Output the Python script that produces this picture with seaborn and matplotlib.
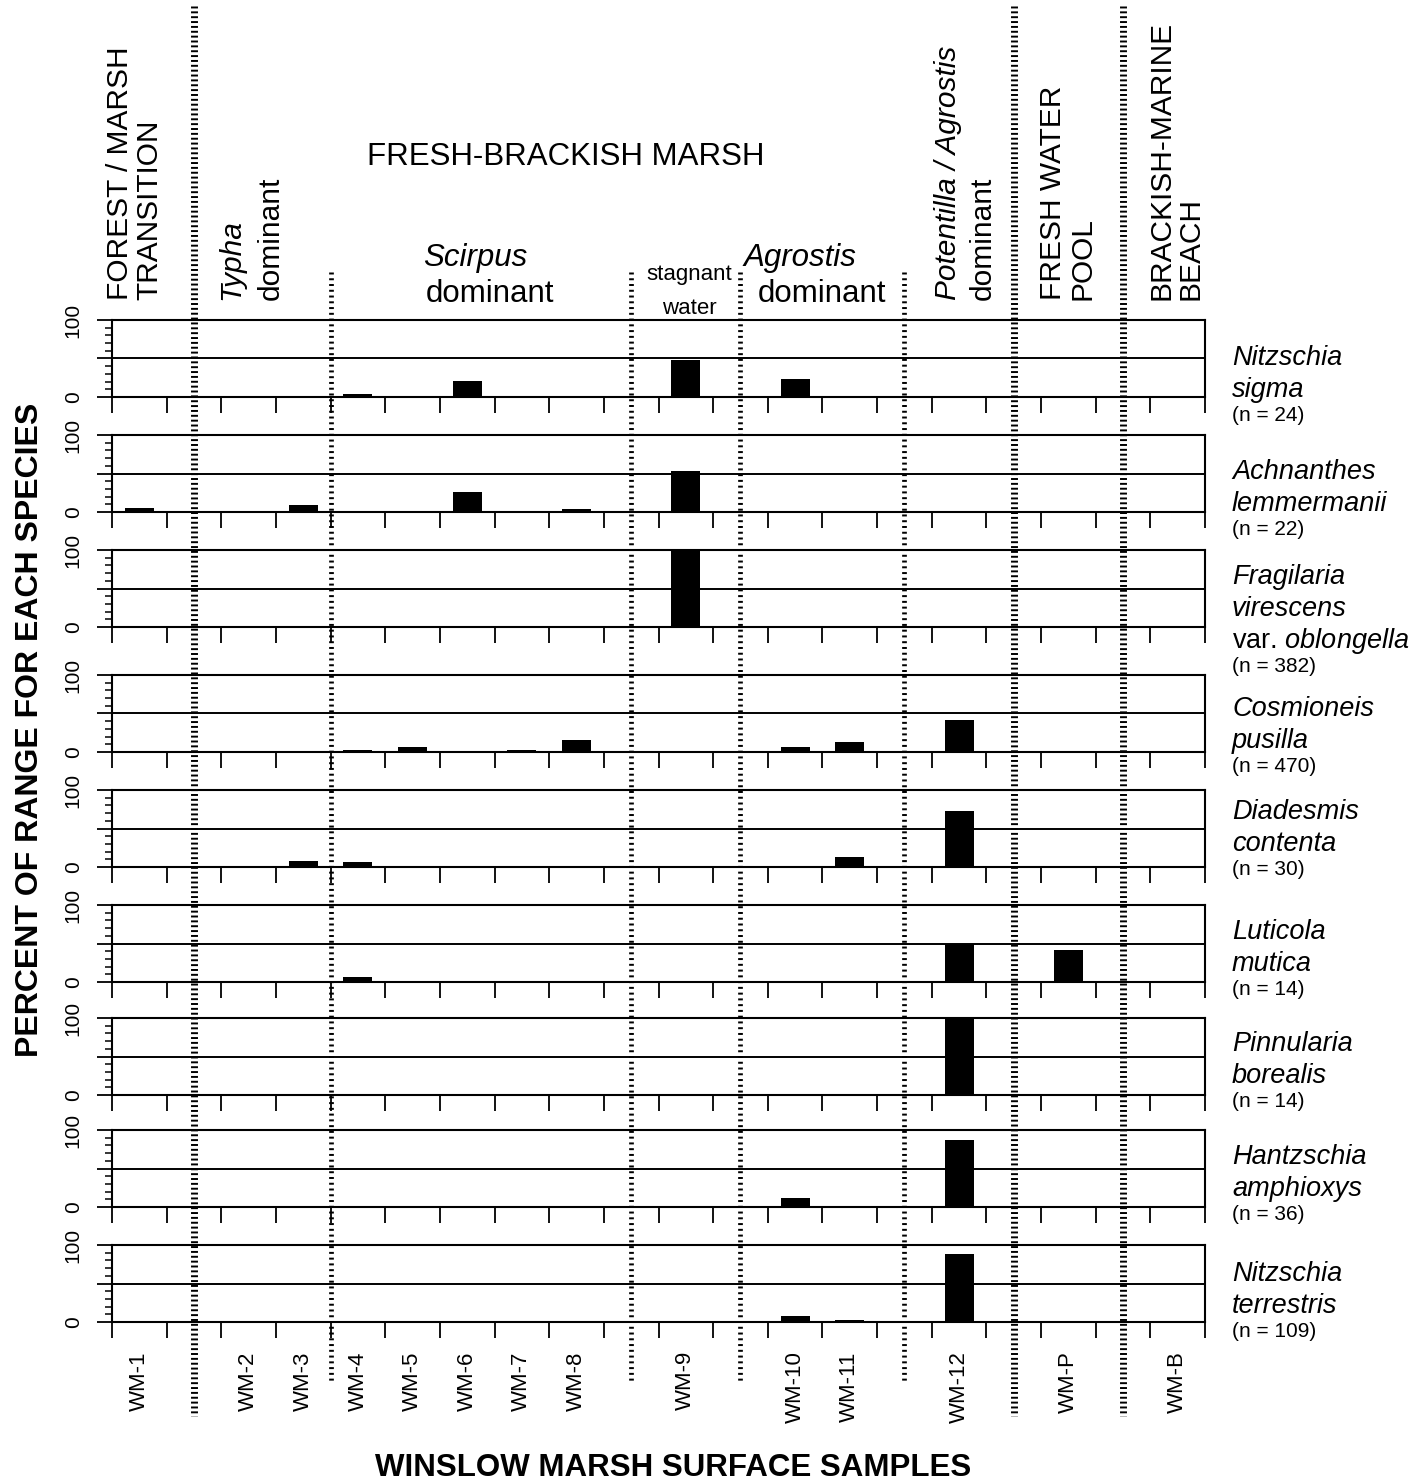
import numpy as np
import pandas as pd
import matplotlib
matplotlib.use("Agg")
import matplotlib.pyplot as plt
import matplotlib.transforms as mtransforms
from matplotlib.lines import Line2D
import seaborn as sns

# ---------------------------------------------------------------- data
samples = ["WM-1", "WM-2", "WM-3", "WM-4", "WM-5", "WM-6", "WM-7",
           "WM-8", "WM-9", "WM-10", "WM-11", "WM-12", "WM-P", "WM-B"]

# order of columns along the transect; "||" = major zone divider,
# "|" = divider between vegetation sub-zones
transect = ["WM-1", "||", "WM-2", "WM-3", "WM-4", "WM-5", "WM-6", "WM-7",
            "WM-8", "|", "WM-9", "|", "WM-10", "WM-11", "|", "WM-12", "||",
            "WM-P", "||", "WM-B"]
# sub-zone divider drawn on the edge between two neighbouring samples
edge_dividers = [("WM-3", "WM-4")]

species = ["Nitzschia\nsigma",
           "Achnanthes\nlemmermanii",
           "Fragilaria\nvirescens\nvar. $\\mathit{oblongella}$",
           "Cosmioneis\npusilla",
           "Diadesmis\ncontenta",
           "Luticola\nmutica",
           "Pinnularia\nborealis",
           "Hantzschia\namphioxys",
           "Nitzschia\nterrestris"]
counts = [24, 22, 382, 470, 30, 14, 14, 36, 109]

#                      WM-1 -2  -3  -4  -5  -6  -7  -8  -9  -10 -11 -12  P   B
nitzschia_sigma     = [0,   0,  0,  4,  0,  21, 0,  0,  48, 23, 0,  0,   0,  0]
achnanthes_lemm     = [5,   0,  9,  0,  0,  26, 0,  4,  53, 0,  0,  0,   0,  0]
fragilaria_vir      = [0,   0,  0,  0,  0,  0,  0,  0,  100, 0, 0,  0,   0,  0]
cosmioneis_pusilla  = [0,   0,  0,  2,  7,  1,  3,  16, 0,  7,  13, 42,  0,  0]
diadesmis_contenta  = [0,   0,  8,  7,  0,  0,  0,  0,  0,  0,  13, 73,  0,  0]
luticola_mutica     = [0,   0,  0,  7,  0,  0,  0,  0,  0,  0,  0,  49,  41, 0]
pinnularia_borealis = [0,   0,  0,  0,  0,  0,  0,  0,  0,  0,  0,  100, 0,  0]
hantzschia_amph     = [0,   0,  0,  0,  0,  0,  0,  0,  0,  12, 0,  87,  0,  0]
nitzschia_terr      = [0,   0,  0,  0,  0,  0,  0,  0,  0,  8,  2,  88,  0,  0]

series = [nitzschia_sigma, achnanthes_lemm, fragilaria_vir, cosmioneis_pusilla,
          diadesmis_contenta, luticola_mutica, pinnularia_borealis,
          hantzschia_amph, nitzschia_terr]

pos = {s: transect.index(s) + 0.5 for s in samples}
records = []
for sp, vals in zip(species, series):
    for s, v in zip(samples, vals):
        records.append({"species": sp, "sample": s, "pos": pos[s], "value": v})
df = pd.DataFrame(records)

# ---------------------------------------------------------------- style
sns.set_theme(style="ticks")
plt.rcParams["font.family"] = ["Liberation Sans", "DejaVu Sans"]
plt.rcParams["mathtext.fontset"] = "custom"
plt.rcParams["mathtext.rm"] = "Liberation Sans"
plt.rcParams["mathtext.it"] = "Liberation Sans:italic"
for key in ["text.color", "axes.labelcolor", "xtick.color", "ytick.color",
            "xtick.labelcolor", "ytick.labelcolor"]:
    plt.rcParams[key] = "black"

W, H = 1411, 1484
fig = plt.figure(figsize=(W / 100, H / 100), dpi=100)


def fx(px):
    return px / W


def fy(py):
    return 1 - py / H


x_left, x_right = 112, 1205
panel_tops = [320, 435, 550, 675, 790, 905, 1018, 1130, 1245]
panel_h = 77
label_first = [36, 35, 25, 32, 20, 25, 24, 25, 27]

axes = []
for i, (sp, n) in enumerate(zip(species, counts)):
    top = panel_tops[i]
    ax = fig.add_axes([fx(x_left), fy(top + panel_h),
                       fx(x_right) - fx(x_left), panel_h / H])
    sub = df[df["species"] == sp]
    sns.barplot(data=sub, x="pos", y="value", native_scale=True,
                color="black", width=0.53, linewidth=0, errorbar=None,
                saturation=1, ax=ax)
    ax.set_xlim(0, len(transect))
    ax.set_ylim(0, 100)
    ax.set_xlabel("")
    ax.set_ylabel("")
    ax.axhline(50, color="black", lw=1.4, zorder=1)
    for side in ["left", "right", "top", "bottom"]:
        ax.spines[side].set_visible(True)
        ax.spines[side].set_linewidth(1.5)
        ax.spines[side].set_color("black")

    ax.set_xticks(np.arange(0, len(transect) + 1))
    ax.set_xticklabels([])
    ax.tick_params(axis="x", which="major", direction="out", length=11.5,
                   width=1.3, color="black")
    ax.set_yticks([0, 50, 100])
    ax.set_yticklabels(["0", "", "100"])
    ax.set_yticks(np.arange(10, 100, 10), minor=True)
    ax.tick_params(axis="y", which="major", direction="out", length=11,
                   width=1.3, color="black", pad=10, labelsize=15,
                   labelcolor="black")
    ax.tick_params(axis="y", which="minor", direction="out", length=5,
                   width=1.1, color="black")
    for lab in ax.get_yticklabels():
        lab.set_rotation(90)
        lab.set_va("center")
    ax.patch.set_alpha(0)

    # species name and number of observations
    lines = sp.split("\n")
    y0 = top + label_first[i]
    for k, ln in enumerate(lines):
        style = "normal" if ln.startswith("var.") else "italic"
        fig.text(fx(1232), fy(y0 + 32 * k + 9), ln, fontsize=19.5,
                 style=style, ha="left", va="baseline")
    fig.text(fx(1232), fy(y0 + 32 * (len(lines) - 1) + 27 + 6),
             f"(n = {n})", fontsize=15, ha="left", va="baseline")
    axes.append(ax)

# sample names under the lowest panel
bottom_ax = axes[-1]
bottom_ax.set_xticks([pos[s] for s in samples], minor=True)
bottom_ax.set_xticklabels(samples, minor=True, rotation=90, fontsize=16)
bottom_ax.tick_params(axis="x", which="minor", length=0, pad=21,
                      labelcolor="black")

# ---------------------------------------------------------------- zone dividers
blend = mtransforms.blended_transform_factory(axes[0].transData, fig.transFigure)


def divider(x, heavy):
    if heavy:
        y0, y1, lw, dash = 6, 1416, 5.0, (0.28, 0.42)
    else:
        y0, y1, lw, dash = 272, 1382, 3.4, (0.42, 0.8)
    ln = Line2D([x, x], [fy(y0), fy(y1)], transform=blend, color="black",
                lw=lw, dashes=dash, solid_capstyle="butt",
                dash_capstyle="butt", zorder=5, clip_on=False)
    fig.add_artist(ln)


for j, slot in enumerate(transect):
    if slot == "||":
        divider(j + 0.5, True)
    elif slot == "|":
        divider(j + 0.5, False)
for a, b in edge_dividers:
    divider((pos[a] + pos[b]) / 2, False)

# ---------------------------------------------------------------- zone labels
ZF = 21.5
HF = 22.5
fig.text(fx(135), fy(300), "FOREST / MARSH\nTRANSITION", rotation=90,
         ha="center", va="bottom", fontsize=ZF, linespacing=1.05,
         multialignment="left")
fig.text(fx(231), fy(300), "Typha", rotation=90, ha="center", va="bottom",
         fontsize=ZF, style="italic")
fig.text(fx(271), fy(300), "dominant", rotation=90, ha="center", va="bottom",
         fontsize=ZF)
fig.text(fx(566), fy(165), "FRESH-BRACKISH MARSH", ha="center",
         va="baseline", fontsize=HF)
fig.text(fx(475), fy(266), "Scirpus", ha="center", va="baseline",
         fontsize=HF, style="italic")
fig.text(fx(490), fy(302), "dominant", ha="center", va="baseline",
         fontsize=HF)
fig.text(fx(689), fy(280), "stagnant", ha="center", va="baseline",
         fontsize=16)
fig.text(fx(689), fy(314), "water", ha="center", va="baseline",
         fontsize=16)
fig.text(fx(800), fy(266), "Agrostis", ha="center", va="baseline",
         fontsize=HF, style="italic")
fig.text(fx(822), fy(302), "dominant", ha="center", va="baseline",
         fontsize=HF)
fig.text(fx(948), fy(300), "Potentilla / Agrostis", rotation=90,
         ha="center", va="bottom", fontsize=ZF, style="italic")
fig.text(fx(983), fy(300), "dominant", rotation=90, ha="center",
         va="bottom", fontsize=ZF)
fig.text(fx(1068), fy(300), "FRESH WATER\nPOOL", rotation=90, ha="center",
         va="bottom", fontsize=ZF, linespacing=1.05, multialignment="left")
fig.text(fx(1176), fy(300), "BRACKISH-MARINE\nBEACH", rotation=90,
         ha="center", va="bottom", fontsize=ZF, linespacing=1.05,
         multialignment="left")

# ---------------------------------------------------------------- axis titles
fig.text(fx(30), fy(730), "PERCENT OF RANGE FOR EACH SPECIES", rotation=90,
         ha="center", va="center", fontsize=23, fontweight="bold")
fig.text(fx(673), fy(1468), "WINSLOW MARSH SURFACE SAMPLES", ha="center",
         va="center", fontsize=22.5, fontweight="bold")

fig.savefig("out.png", dpi=100)
